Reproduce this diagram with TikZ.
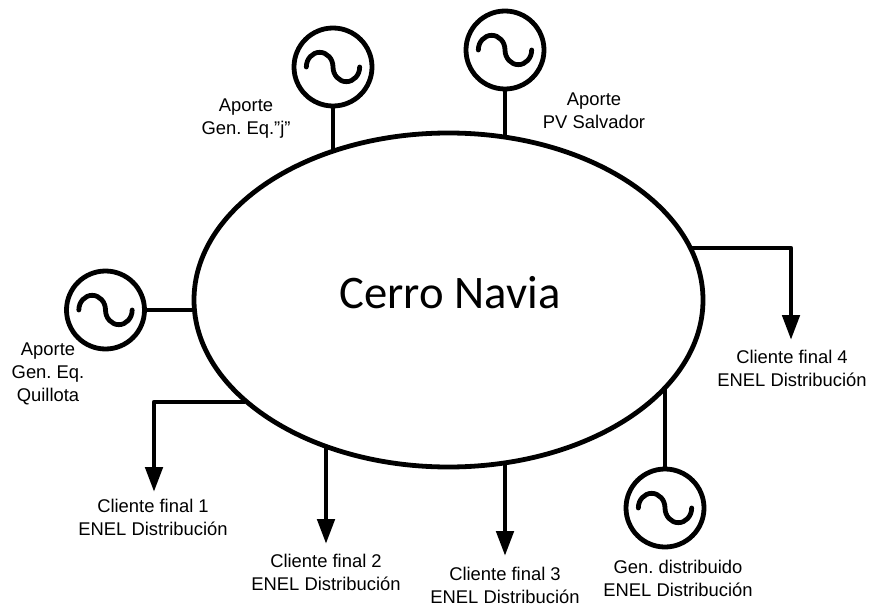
\documentclass[tikz,border=0pt]{standalone}
\usepackage{fontspec}
\setmainfont{Liberation Sans}
\newfontfamily\calib{Carlito}
\usetikzlibrary{arrows.meta,shapes.geometric}
\tikzset{
  x=0.75pt,y=-0.75pt,
  wire/.style={line width=3.6pt,line join=round},
  feeder/.style={wire,-{Triangle[length=18.75pt,width=12.75pt]}},
  lbl/.style={align=center,font=\fontsize{13.8}{17.25}\selectfont\frenchspacing,inner sep=0pt},
  bus/.style={draw,line width=3.6pt,ellipse,minimum width=381.75pt,minimum height=250.5pt,inner sep=0pt},
  gen/.style={draw,line width=3.6pt,circle,minimum size=58.5pt,inner sep=0pt},
}
\newcommand{\sinewave}[1]{%
  \draw[line width=3.6pt,line cap=round] ([xshift=-20pt]#1.center)
    arc[start angle=180,end angle=0,x radius=10pt,y radius=11pt]
    arc[start angle=180,end angle=360,x radius=10pt,y radius=11pt];}
\begin{document}
\begin{tikzpicture}
\useasboundingbox (0,0) rectangle (870,606);
\node[bus] (cn) at (448.5,300) {};
\node[font=\calib\fontsize{35}{40}\selectfont,inner sep=0pt] (title) at (450,293) {Cerro Navia};
\node[gen] (g1) at (333,67) {}; \sinewave{g1}
\node[gen] (g2) at (505,50) {}; \sinewave{g2}
\node[gen] (g3) at (105.5,310) {}; \sinewave{g3}
\node[gen] (g4) at (665,508) {}; \sinewave{g4}
\coordinate (j1) at (333,152);
\coordinate (j2) at (505,136);
\coordinate (j3) at (194,310);
\coordinate (j4) at (665,389);
\draw[wire] (g1) -- (j1);
\draw[wire] (g2) -- (j2);
\draw[wire] (g3) -- (j3);
\draw[wire] (g4) -- (j4);
\coordinate (s1) at (245,402); \coordinate (b1) at (154,402); \coordinate (e1) at (154,492);
\coordinate (s2) at (326,446); \coordinate (e2) at (326,544);
\coordinate (s3) at (505,463); \coordinate (e3) at (505,556);
\coordinate (s4) at (691,248); \coordinate (b4) at (791,248); \coordinate (e4) at (791,340);
\draw[feeder] (s1) -- (b1) -- (e1);
\draw[feeder] (s2) -- (e2);
\draw[feeder] (s3) -- (e3);
\draw[feeder] (s4) -- (b4) -- (e4);
\node[lbl] (l1) at (246,119) {Aporte\\Gen. Eq.”j”};
\node[lbl] (l2) at (594,111) {Aporte\\PV Salvador};
\node[lbl] (l3) at (48,374) {Aporte\\Gen. Eq.\\Quillota};
\node[lbl] (l4) at (153,517) {Cliente final 1\\ENEL Distribución};
\node[lbl] (l5) at (326,572) {Cliente final 2\\ENEL Distribución};
\node[lbl] (l6) at (505,585) {Cliente final 3\\ENEL Distribución};
\node[lbl] (l7) at (678,578) {Gen. distribuido\\ENEL Distribución};
\node[lbl] (l8) at (792,368) {Cliente final 4\\ENEL Distribución};
\end{tikzpicture}
\end{document}
